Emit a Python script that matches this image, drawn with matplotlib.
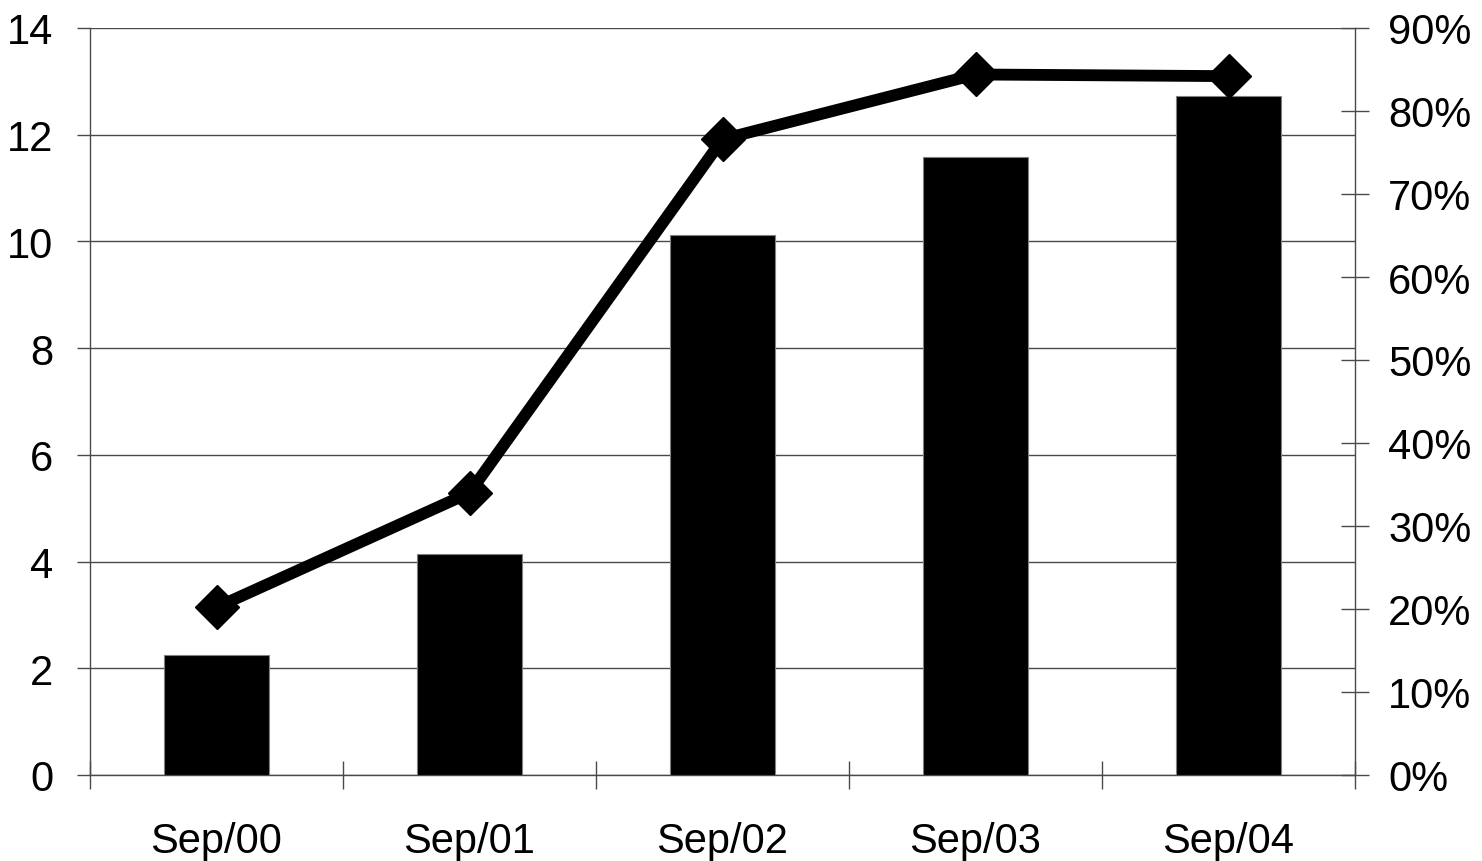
import matplotlib
matplotlib.use("Agg")
import matplotlib.pyplot as plt
from matplotlib.ticker import PercentFormatter, FixedLocator
import numpy as np

categories = ["Sep/00", "Sep/01", "Sep/02", "Sep/03", "Sep/04"]
bar_values = [2.24, 4.14, 10.12, 11.58, 12.73]
line_values = [0.202, 0.340, 0.766, 0.844, 0.842]
left_ticks = [0, 2, 4, 6, 8, 10, 12, 14]
right_ticks = [0.0, 0.1, 0.2, 0.3, 0.4, 0.5, 0.6, 0.7, 0.8, 0.9]

plt.rcParams['font.family'] = ['Liberation Sans', 'DejaVu Sans']

fig = plt.figure(figsize=(14.82, 8.62), dpi=100)
ax = fig.add_axes([90/1482, 86/862, (1355-90)/1482, (776-29)/862])

grey = "#4a4a4a"
x = np.arange(len(categories))
ax.bar(x, bar_values, width=0.415, color="black", edgecolor="#808080", linewidth=0.8, zorder=3)
ax.set_xlim(-0.5, len(categories) - 0.5)
ax.set_ylim(0, 14)
ax.set_yticks(left_ticks)
ax.grid(axis="y", color=grey, linewidth=1.0, zorder=0)
ax.set_axisbelow(True)

ax.set_xticks(x)
ax.set_xticklabels(categories, fontsize=30)
ax.xaxis.set_minor_locator(FixedLocator(np.arange(len(categories) + 1) - 0.5))
ax.tick_params(axis="x", which="major", length=0, pad=33)
ax.tick_params(axis="x", which="minor", direction="inout", length=20, width=1.0, color=grey)
ax.tick_params(axis="y", direction="out", length=9.4, width=1.0, color=grey, labelsize=30, pad=17)

for s in ["top", "right"]:
    ax.spines[s].set_visible(False)
for s in ["left", "bottom"]:
    ax.spines[s].set_color(grey)
    ax.spines[s].set_linewidth(1.0)

ax2 = ax.twinx()
ax2.plot(x, line_values, color="black", linewidth=8.5, marker="D", markersize=22,
         markerfacecolor="black", markeredgecolor="black", markeredgewidth=1, zorder=5)
ax2.set_ylim(0, 0.9)
ax2.set_yticks(right_ticks)
ax2.yaxis.set_major_formatter(PercentFormatter(1.0, decimals=0))
ax2.tick_params(axis="y", direction="inout", length=20, width=1.0, color=grey, labelsize=30, pad=14)
for s in ["top", "left", "bottom"]:
    ax2.spines[s].set_visible(False)
ax2.spines["right"].set_color(grey)
ax2.spines["right"].set_linewidth(1.0)

fig.savefig("out.png", dpi=100)
